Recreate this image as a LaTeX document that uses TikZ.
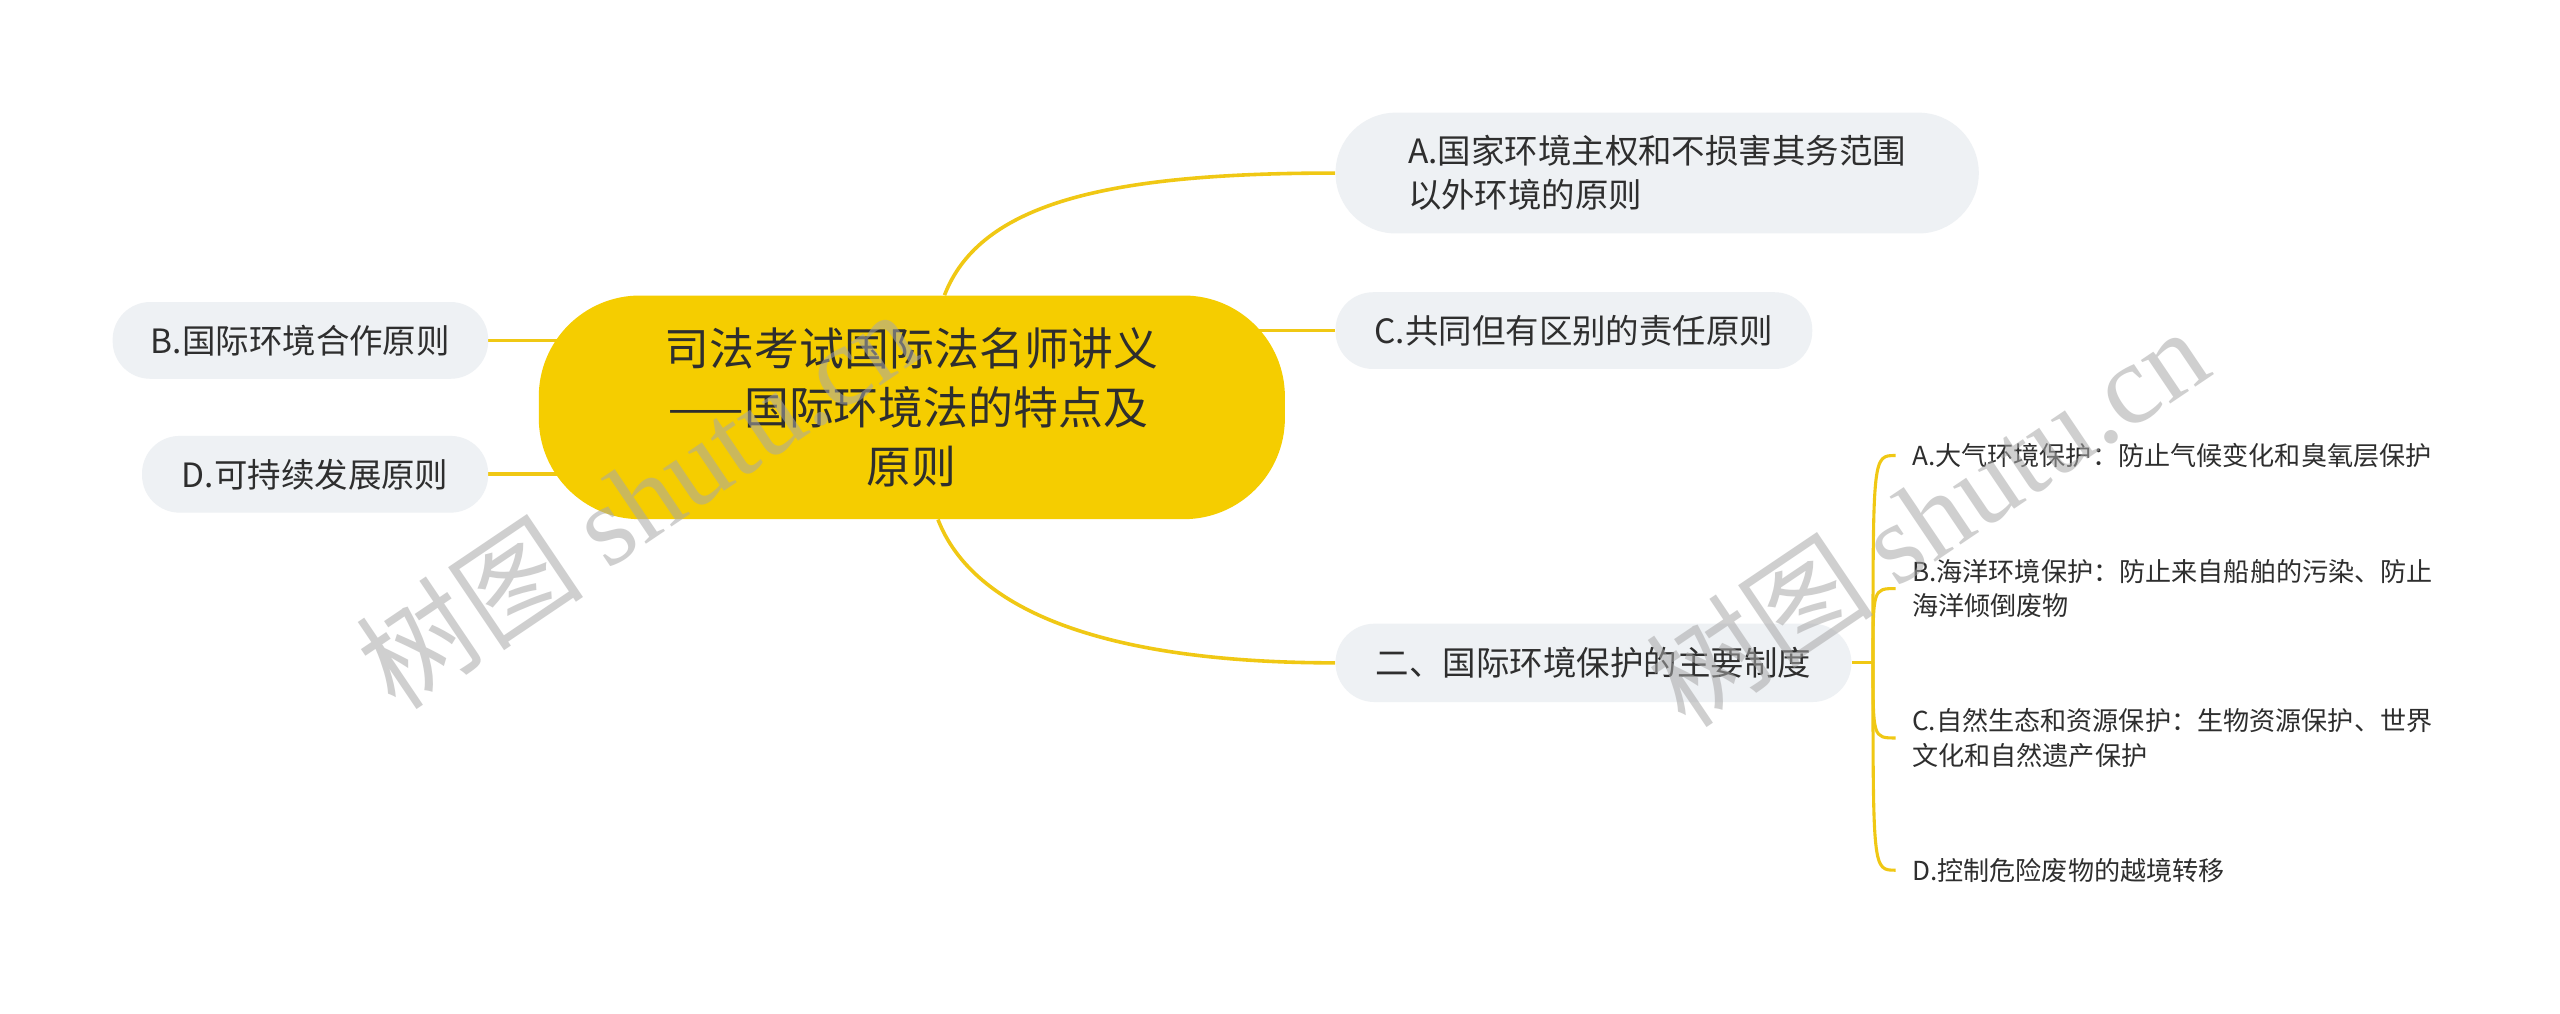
\documentclass[tikz,border=0pt]{standalone}
\usepackage{fontspec}
\setmainfont{Noto Sans CJK SC}
\newfontfamily\wmlatin{Liberation Serif}
\usetikzlibrary{backgrounds,calc}
\definecolor{mainyellow}{HTML}{F5CD00}
\definecolor{lineyellow}{HTML}{F0C814}
\definecolor{boxgray}{HTML}{EEF1F4}
\definecolor{txt}{HTML}{2E2E2E}
\definecolor{wmgray}{HTML}{A8A8A8}
\begin{document}
\begin{tikzpicture}[x=1pt,y=-1pt,
  conn/.style={draw=lineyellow, line width=2.2pt},
  subconn/.style={draw=lineyellow, line width=1.9pt},
  rootbox/.style={fill=mainyellow, rounded corners=62pt, minimum width=457pt, minimum height=137pt, align=center, font=\fontsize{27.5}{36}\selectfont, text=txt, inner sep=0pt},
  topicbox/.style={fill=boxgray, rounded corners=23pt, minimum height=47pt, font=\fontsize{20.5}{27}\selectfont, text=txt, inner sep=0pt},
  leaf/.style={anchor=west, align=left, font=\fontsize{16}{21}\selectfont, text=txt, inner sep=0pt},
  wm/.style={text=wmgray, opacity=0.55, rotate=34, font=\fontsize{70}{70}\selectfont, inner sep=0pt}
]
\useasboundingbox (0,0) rectangle (1568,620.5);

% nodes
\node[rootbox] (root) at (558.5,249.5) {司法考试国际法名师讲义\\\hspace*{-4pt}——国际环境法的特点及\\原则};
\node[topicbox, minimum width=394pt, minimum height=74pt, rounded corners=37pt, align=left] (A) at (1015,106) {A.国家环境主权和不损害其务范围\\以外环境的原则};
\node[topicbox, minimum width=292pt] (C) at (964,202.5) {C.共同但有区别的责任原则};
\node[topicbox, minimum width=230pt] (B) at (184,208.5) {B.国际环境合作原则};
\node[topicbox, minimum width=212pt] (D) at (193,290.5) {D.可持续发展原则};
\node[topicbox, minimum width=316pt, minimum height=48pt, rounded corners=24pt] (E) at (976,406) {二、国际环境保护的主要制度};

\node[leaf] (LA) at (1171,279) {A.大气环境保护：防止气候变化和臭氧层保护};
\node[leaf] (LB) at (1171,360.5) {B.海洋环境保护：防止来自船舶的污染、防止\\海洋倾倒废物};
\node[leaf] (LC) at (1171,452) {C.自然生态和资源保护：生物资源保护、世界\\文化和自然遗产保护};
\node[leaf] (LD) at (1171,533) {D.控制危险废物的越境转移};

\coordinate (J) at ($(E.east)+(13,0)$);
\coordinate (tA) at ([xshift=-10pt]LA.west);
\coordinate (tB) at ([xshift=-10pt]LB.west);
\coordinate (tC) at ([xshift=-10pt]LC.west);
\coordinate (tD) at ([xshift=-10pt]LD.west);

\begin{scope}[on background layer]
  \fill[white] (0,0) rectangle (1568,620.5);
  \draw[conn] ([xshift=20pt]root.north) .. controls +(22,-57) and +(-138,0) .. (A.west);
  \draw[conn] ([xshift=16pt]root.south) .. controls +(22,57) and +(-138,0) .. (E.west);
  \draw[conn] (C.west) -- (C.west -| root.center);
  \draw[conn] (B.east) -- (B.east -| root.center);
  \draw[conn] (D.east) -- (D.east -| root.center);
  \draw[subconn] (E.east) -- (J);
  \foreach \t in {tA,tB,tC,tD}{
    \draw[subconn] (J) .. controls (J |- \t) and (J |- \t) .. (\t);
  }
\end{scope}

% watermark
\node[wm] (wm1) at (390,305) {树图 {\wmlatin shutu.cn}};
\node[wm] (wm2) at (1180,316) {树图 {\wmlatin shutu.cn}};
\end{tikzpicture}
\end{document}
